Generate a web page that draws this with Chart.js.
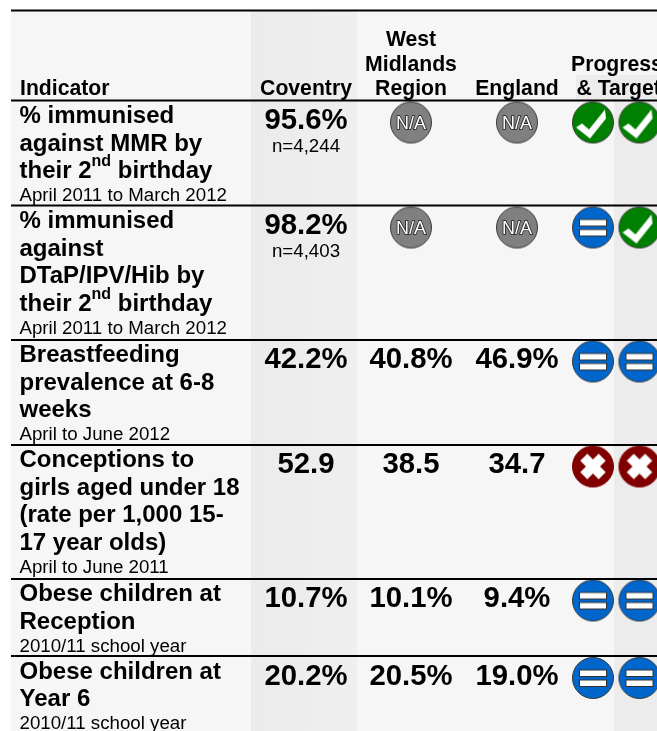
<!DOCTYPE html>
<html lang="en">
<head>
  <meta charset="UTF-8">
  <title>Indicators</title>
  <script src="https://cdn.jsdelivr.net/npm/chart.js"></script>
  <style>
    html, body { margin: 0; padding: 0; background: #fff; overflow: hidden; }
    canvas { display: block; }
  </style>
</head>
<body>
<canvas id="tabela" width="657" height="731"></canvas>
<script>
// data
const indicators = [
  ['% immunised', 'against MMR by', 'their 2^nd^ birthday'],
  ['% immunised', 'against', 'DTaP/IPV/Hib by', 'their 2^nd^ birthday'],
  ['Breastfeeding', 'prevalence at 6-8', 'weeks'],
  ['Conceptions to', 'girls aged under 18', '(rate per 1,000 15-', '17 year olds)'],
  ['Obese children at', 'Reception'],
  ['Obese children at', 'Year 6']
];
const periods = [
  'April 2011 to March 2012', 'April 2011 to March 2012', 'April to June 2012',
  'April to June 2011', '2010/11 school year', '2010/11 school year'
];
const coventry = [95.6, 98.2, 42.2, 52.9, 10.7, 20.2];
const westMidlands = [null, null, 40.8, 38.5, 10.1, 20.5];
const england = [null, null, 46.9, 34.7, 9.4, 19.0];
const units = ['%', '%', '%', '', '%', '%'];
const counts = ['n=4,244', 'n=4,403', '', '', '', ''];
const progress = ['tick', 'equal', 'equal', 'cross', 'equal', 'equal'];
const target = ['tick', 'tick', 'equal', 'cross', 'equal', 'equal'];

// layout, in canvas pixels (the axes run 0-657 and 0-731)
const rowTop = [101, 206, 340, 445, 579, 656.5];
const rules = [10.5, 100.5, 205.5, 340, 445, 579, 656];
const colCoventry = 306, colRegion = 411, colEngland = 517, colProgress = 593, colTarget = 639.5;
const FONT = '"Liberation Sans", Arial, sans-serif';

// status icons, used as point styles
function makeIcon(kind) {
  const c = document.createElement('canvas');
  c.width = 44; c.height = 44;
  const g = c.getContext('2d');
  g.translate(22, 22);
  const colours = { tick: '#008000', equal: '#0066cc', cross: '#800000', na: '#808080' };
  g.beginPath();
  g.arc(0, 0, 20.5, 0, Math.PI * 2);
  g.fillStyle = colours[kind];
  g.fill();
  g.lineWidth = 1;
  g.strokeStyle = kind === 'cross' ? '#800000' : '#3a3a3a';
  g.stroke();
  g.fillStyle = '#fff';
  if (kind === 'tick') {
    g.beginPath();
    [[-17, 5], [-11, 1], [-4, 7], [12, -13], [13, -4], [-3, 16]].forEach(function (p, i) {
      if (i === 0) g.moveTo(p[0], p[1]); else g.lineTo(p[0], p[1]);
    });
    g.closePath();
    g.fill();
  } else if (kind === 'equal') {
    g.strokeStyle = '#333';
    [-8, 2].forEach(function (top) {
      g.fillRect(-13.5, top, 27, 6.5);
      g.strokeRect(-13.5, top, 27, 6.5);
    });
  } else if (kind === 'cross') {
    g.rotate(Math.PI / 4);
    g.fillRect(-13, -5, 26, 10);
    g.fillRect(-5, -13, 10, 26);
  }
  return c;
}
const icons = { tick: makeIcon('tick'), equal: makeIcon('equal'), cross: makeIcon('cross'), na: makeIcon('na') };

function iconDataset(x, kinds) {
  return {
    data: kinds.map(function (k, i) { return { x: x, y: rowTop[i] + 21.5 }; }),
    pointStyle: kinds.map(function (k) { return icons[k]; }),
    pointRadius: 21,
    showLine: false
  };
}

function ruleDataset(y) {
  return {
    data: [{ x: 11, y: y }, { x: 657, y: y }],
    showLine: true,
    borderColor: '#000',
    borderWidth: 2,
    pointRadius: 0
  };
}

// grey N/A discs only where a column has no value
function naDataset(x, values) {
  const d = iconDataset(x, values.map(function () { return 'na'; }));
  d.data = d.data.map(function (p, i) { return values[i] === null ? p : { x: x, y: null }; });
  return d;
}

// backgrounds, drawn under the datasets
const fundo = {
  id: 'fundo',
  beforeDatasetsDraw(chart) {
    const c = chart.ctx, sx = chart.scales.x, sy = chart.scales.y;
    function rect(x0, y0, x1, y1, fill) {
      c.fillStyle = fill;
      c.fillRect(sx.getPixelForValue(x0), sy.getPixelForValue(y0),
        sx.getPixelForValue(x1) - sx.getPixelForValue(x0), sy.getPixelForValue(y1) - sy.getPixelForValue(y0));
    }
    rect(11, 11, 657, 731, '#f6f6f6');
    const band = c.createLinearGradient(sx.getPixelForValue(251), 0, sx.getPixelForValue(357), 0);
    band.addColorStop(0, '#ebebeb');
    band.addColorStop(1, '#efefef');
    rect(251, 11, 357, 731, band);
    rect(576, 75, 657, 101, '#ececec');
    rect(614, 101, 657, 731, '#ececec');
  }
};

function drawText(c, text, x, y, font, align) {
  c.font = font;
  c.textAlign = align || 'left';
  c.fillText(text, x, y);
}

// one indicator line, "^nd^" is written as superscript
function drawLine(c, line, x, y) {
  const parts = line.split('^');
  let at = x;
  parts.forEach(function (p, i) {
    const font = (i % 2 ? 'bold 16px ' : 'bold 24px ') + FONT;
    drawText(c, p, at, i % 2 ? y - 12 : y, font);
    at += c.measureText(p).width;
  });
}

const textos = {
  id: 'textos',
  afterDatasetsDraw(chart) {
    const c = chart.ctx, sx = chart.scales.x, sy = chart.scales.y;
    const X = function (v) { return sx.getPixelForValue(v); };
    const Y = function (v) { return sy.getPixelForValue(v); };
    c.save();
    c.fillStyle = '#000';
    c.textBaseline = 'alphabetic';

    const head = 'bold 21.2px ' + FONT;
    drawText(c, 'Indicator', X(20), Y(95), head);
    drawText(c, 'Coventry', X(colCoventry), Y(95), head, 'center');
    drawText(c, 'West', X(colRegion), Y(46), head, 'center');
    drawText(c, 'Midlands', X(colRegion), Y(71), head, 'center');
    drawText(c, 'Region', X(colRegion), Y(95), head, 'center');
    drawText(c, 'England', X(colEngland), Y(95), head, 'center');
    drawText(c, 'Progress', X(571), Y(71), head);
    drawText(c, '& Targets', X(576.5), Y(95), head);

    indicators.forEach(function (lines, i) {
      const top = rowTop[i];
      lines.forEach(function (l, n) {
        drawLine(c, l, X(19.5), Y(top + 22 + n * 27.7));
      });
      drawText(c, periods[i], X(19.5), Y(top + 22 + (lines.length - 1) * 27.7 + 23), '18.7px ' + FONT);

      const big = 'bold 29.3px ' + FONT;
      [[coventry, colCoventry], [westMidlands, colRegion], [england, colEngland]].forEach(function (col) {
        const v = col[0][i];
        if (v !== null) {
          drawText(c, v.toFixed(1) + units[i], X(col[1]), Y(top + 28), big, 'center');
        } else {
          c.font = '18px ' + FONT;
          c.textAlign = 'center';
          c.lineWidth = 1.6;
          c.strokeStyle = '#222';
          c.strokeText('N/A', X(col[1]), Y(top + 28));
          c.fillStyle = '#fff';
          c.fillText('N/A', X(col[1]), Y(top + 28));
          c.fillStyle = '#000';
        }
      });
      if (counts[i]) {
        drawText(c, counts[i], X(colCoventry), Y(top + 51), '18.7px ' + FONT, 'center');
      }
    });
    c.restore();
  }
};

new Chart(document.getElementById('tabela'), {
  type: 'scatter',
  data: {
    datasets: rules.map(ruleDataset).concat([
      naDataset(colRegion, westMidlands),
      naDataset(colEngland, england),
      iconDataset(colProgress, progress),
      iconDataset(colTarget, target)
    ])
  },
  options: {
    responsive: false,
    animation: false,
    layout: { padding: 0, autoPadding: false },
    plugins: { legend: { display: false }, tooltip: { enabled: false } },
    scales: {
      x: { type: 'linear', min: 0, max: 657, display: false },
      y: { type: 'linear', min: 0, max: 731, reverse: true, display: false }
    }
  },
  plugins: [fundo, textos]
});
</script>
</body>
</html>
